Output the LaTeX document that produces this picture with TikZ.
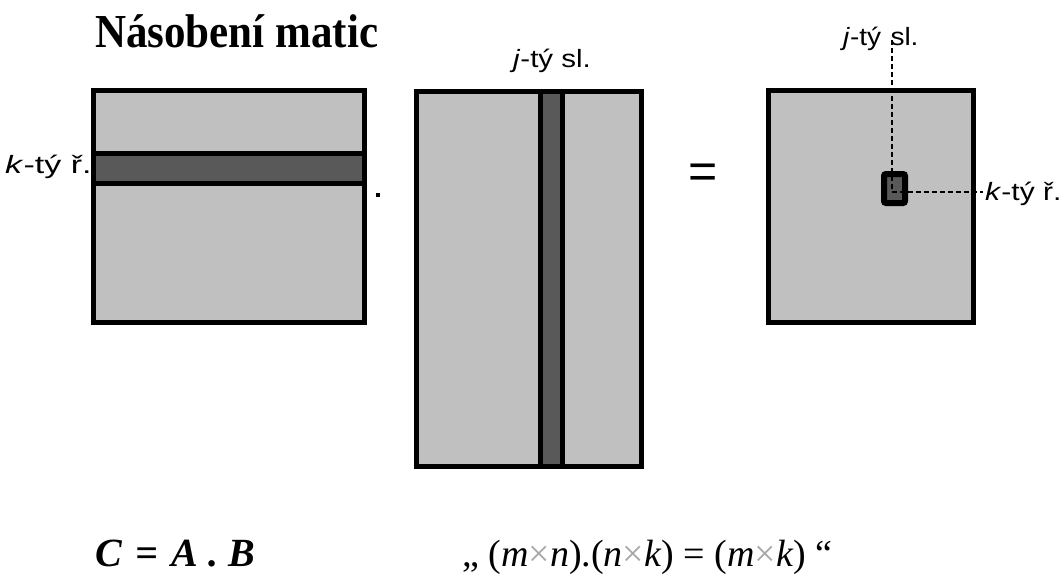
\documentclass[tikz,border=0pt]{standalone}
\usepackage{fontspec}
\setmainfont{Liberation Serif}
\newfontfamily\arialf{Liberation Sans}
\definecolor{lgray}{HTML}{C0C0C0}
\definecolor{dgray}{HTML}{595959}
\definecolor{xgray}{HTML}{A8A8A8}
\begin{document}
\begin{tikzpicture}[x=1pt,y=-1pt,
  mat/.style={draw=black,line width=5pt,fill=lgray,inner sep=0pt,outer sep=0pt},
  band/.style={draw=black,line width=5pt,fill=dgray,inner sep=0pt,outer sep=0pt},
  lbl/.style={font=\arialf\fontsize{25}{29}\selectfont,inner sep=0pt},
  guide/.style={line width=1.6pt,dash pattern=on 5pt off 3pt}]
\useasboundingbox (0,0) rectangle (1062,581);
% title
\node[font=\bfseries\fontsize{43}{50}\selectfont,anchor=base west,inner sep=0pt] (title) at (95,47) {\scalebox{1}[1.1]{Násobení matic}};
% matrix A
\node[mat,minimum width=271pt,minimum height=232pt] (A) at (228.5,206) {};
\node[band,minimum width=271pt,minimum height=30pt] (Arow) at (228.5,168.5) {};
\node[lbl,anchor=base west] (klab) at (5,173) {\scalebox{1.36}[1]{\textit{k}-tý ř.}};
\node[fill=black,inner sep=0pt,minimum size=4pt] (dot) at (378,195) {};
% matrix B
\node[mat,minimum width=225pt,minimum height=375pt] (B) at (528.5,278.5) {};
\node[band,minimum width=22pt,minimum height=375pt] (Bcol) at (551.5,278.5) {};
\node[lbl,anchor=base west] (jlab) at (513,67) {\scalebox{1.18}[1]{\textit{j}-tý sl.}};
% equals
\node[font=\arialf\fontsize{50}{54}\selectfont,inner sep=0pt] (eq) at (703,176) {=};
% matrix C
\node[mat,minimum width=205pt,minimum height=232pt] (C) at (870.5,206) {};
\node[draw=black,line width=6pt,fill=dgray,rounded corners=2pt,minimum width=21pt,minimum height=29pt,inner sep=0pt] (cel) at (894.5,188.5) {};
\coordinate (vtop) at (892,40);
\coordinate (hend) at (983,192);
\draw[guide] (vtop) -- (vtop |- cel.center);
\draw[guide] (vtop |- hend) -- (hend);
\node[lbl,anchor=base west] (jlab2) at (843,45) {\scalebox{1.12}[1]{\textit{j}-tý\,\,sl.}};
\node[lbl,anchor=base west] (klab2) at (985,200) {\scalebox{1.2}[1]{\textit{k}-tý ř.}};
% bottom formulas
\node[anchor=base west,font=\bfseries\itshape\fontsize{40}{44}\selectfont,inner sep=0pt] (prod) at (95,566) {C\,\,=\,\,A . B};
\node[anchor=base west,font=\fontsize{38}{42}\selectfont,inner sep=0pt] (dims) at (462,566) {„ (\textit{m}\textcolor{xgray}{×}\textit{n}).(\textit{n}\textcolor{xgray}{×}\textit{k}) = (\textit{m}\textcolor{xgray}{×}\textit{k}) “};
\end{tikzpicture}
\end{document}
